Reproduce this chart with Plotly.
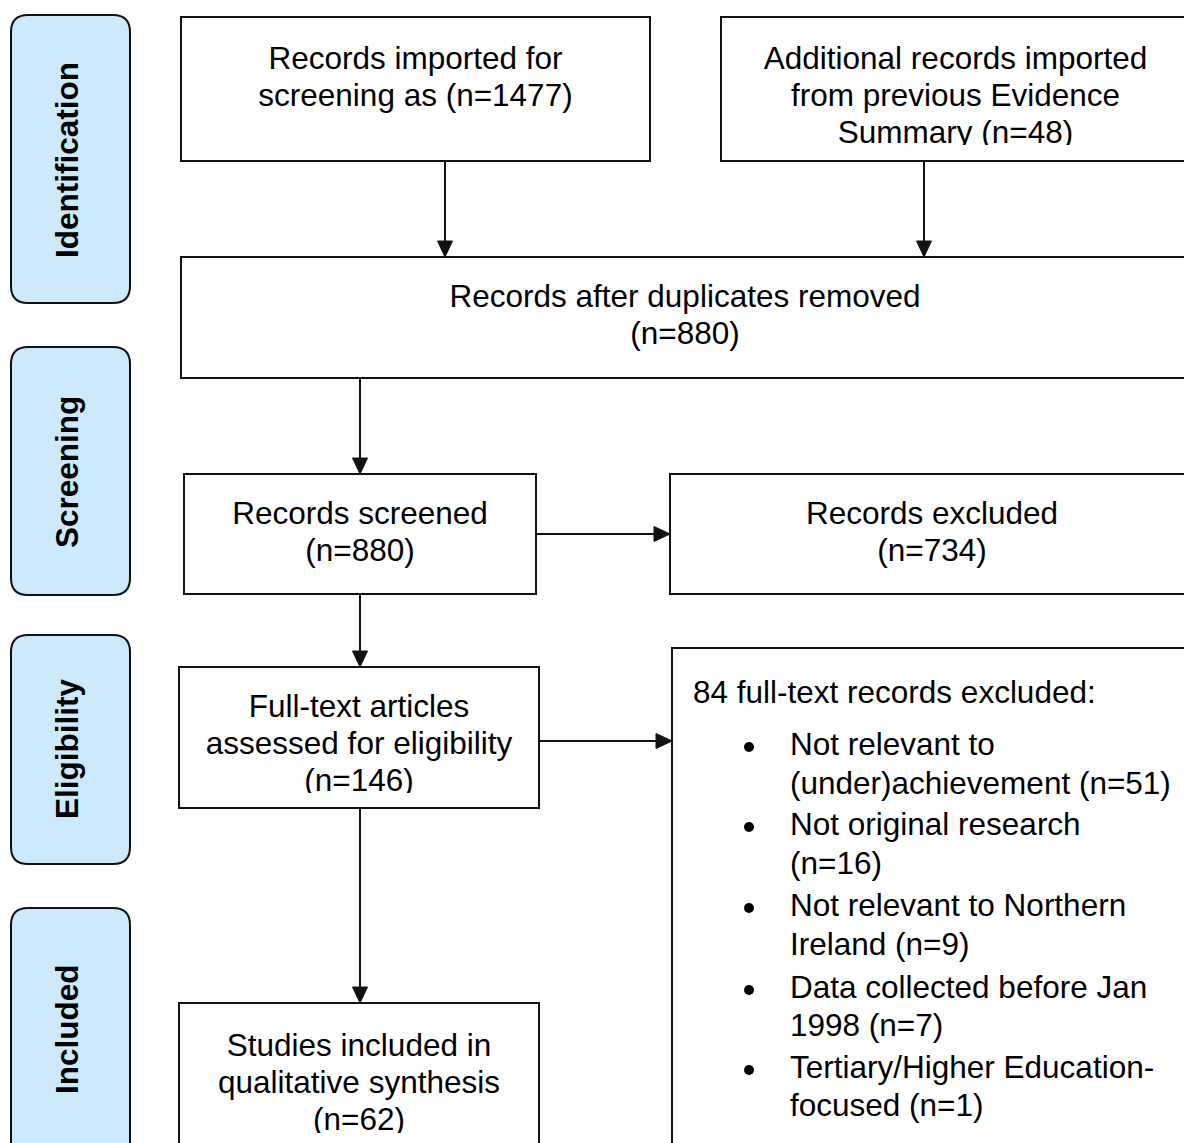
import plotly.graph_objects as go

# study-flow counts
N_IMPORTED = 1477
N_PREVIOUS = 48
N_DEDUPED = 880
N_SCREENED = 880
N_EXCLUDED = 734
N_FULLTEXT = 146
N_FT_EXCLUDED = 84
N_INCLUDED = 62

PHASES = ["Identification", "Screening", "Eligibility", "Included"]

EXCLUSION_REASONS = [
    ("Not relevant to", "(under)achievement"),
    ("Not original research", ""),
    ("Not relevant to Northern", "Ireland"),
    ("Data collected before Jan", "1998"),
    ("Tertiary/Higher Education-", "focused"),
]
EXCLUSION_COUNTS = [51, 16, 9, 7, 1]

BOX_IMPORTED = ["Records imported for", f"screening as (n={N_IMPORTED})"]
BOX_PREVIOUS = ["Additional records imported", "from previous Evidence",
                f"Summary (n={N_PREVIOUS})"]
BOX_DEDUPED = ["Records after duplicates removed", f"(n={N_DEDUPED})"]
BOX_SCREENED = ["Records screened", f"(n={N_SCREENED})"]
BOX_EXCLUDED = ["Records excluded", f"(n={N_EXCLUDED})"]
BOX_FULLTEXT = ["Full-text articles", "assessed for eligibility", f"(n={N_FULLTEXT})"]
BOX_INCLUDED = ["Studies included in", "qualitative synthesis", f"(n={N_INCLUDED})"]

# page coordinates; the html body has an 8px margin, so the figure starts at 8
W, H = 1192, 1143
OFF = 8
FIG_H = H - OFF
FONT = "Arial, 'Liberation Sans', sans-serif"
TEXT_SIZE = 31.5
EDGE = "#111111"
PHASE_FILL = "#CDEAFD"

fig = go.Figure()
shapes = []
masks = []
borders = []


def rounded_rect(x0, y0, x1, y1, r):
    return (f"M {x0 + r},{y0} L {x1 - r},{y0} Q {x1},{y0} {x1},{y0 + r} "
            f"L {x1},{y1 - r} Q {x1},{y1} {x1 - r},{y1} L {x0 + r},{y1} "
            f"Q {x0},{y1} {x0},{y1 - r} L {x0},{y0 + r} Q {x0},{y0} {x0 + r},{y0} Z")


def add_text(xs, ys, texts, position="middle center"):
    fig.add_trace(go.Scatter(
        x=xs, y=ys, text=texts, mode="text", textposition=position,
        textfont=dict(family=FONT, size=TEXT_SIZE, color="#000000"),
        hoverinfo="skip", showlegend=False, cliponaxis=False,
    ))


def add_box(box, lines, line_ys, cx=None, clip_y=None):
    x0, y0, x1, y1 = box
    borders.append(dict(type="rect", x0=x0, y0=y0, x1=x1, y1=y1, layer="above",
                        line=dict(color=EDGE, width=2), fillcolor="rgba(0,0,0,0)"))
    if lines:
        if cx is None:
            cx = (x0 + x1) / 2
        add_text([cx] * len(lines), line_ys, lines)
    if clip_y is not None:
        # the source text frames cut their last line at the baseline
        masks.append(dict(type="rect", x0=x0 + 1.5, x1=min(x1, W + 10) - 1.5,
                          y0=clip_y, y1=y1 - 1.2, layer="above",
                          line=dict(width=0), fillcolor="#ffffff"))


def add_arrow(x0, y0, x1, y1, head=16, half=7.5):
    borders.append(dict(type="line", x0=x0, y0=y0, x1=x1, y1=y1, layer="above",
                        line=dict(color=EDGE, width=2)))
    if x0 == x1:
        d = 1 if y1 > y0 else -1
        path = (f"M {x1},{y1} L {x1 - half},{y1 - d * head} "
                f"L {x1 + half},{y1 - d * head} Z")
    else:
        d = 1 if x1 > x0 else -1
        path = (f"M {x1},{y1} L {x1 - d * head},{y1 - half} "
                f"L {x1 - d * head},{y1 + half} Z")
    borders.append(dict(type="path", path=path, layer="above", fillcolor=EDGE,
                        line=dict(color=EDGE, width=1)))


# phase side labels
phase_boxes = [(11, 15, 130, 303), (11, 347, 130, 595),
               (11, 635, 130, 864), (11, 908, 130, 1165)]
phase_label_y = [160, 472, 749, 1029]
for (x0, y0, x1, y1), name, ly in zip(phase_boxes, PHASES, phase_label_y):
    shapes.append(dict(type="path", path=rounded_rect(x0, y0, x1, y1, 17),
                       fillcolor=PHASE_FILL, layer="below",
                       line=dict(color=EDGE, width=2)))
    fig.add_annotation(x=67, y=ly, text=f"<b>{name}</b>", textangle=-90,
                       showarrow=False, xanchor="center", yanchor="middle",
                       font=dict(family=FONT, size=31.5, color="#000000"))

# flow boxes
add_box((181, 17, 650, 161), BOX_IMPORTED, [61, 98])
add_box((721, 17, 1190, 161), BOX_PREVIOUS, [61, 98, 135], clip_y=145)
add_box((181, 257, 1215, 378), BOX_DEDUPED, [299, 336], cx=685)
add_box((184, 474, 536, 594), BOX_SCREENED, [516, 553], cx=360)
add_box((670, 474, 1215, 594), BOX_EXCLUDED, [516, 553], cx=932)
add_box((179, 667, 539, 808), BOX_FULLTEXT, [709, 746, 783], cx=359, clip_y=793)
add_box((179, 1003, 539, 1165), BOX_INCLUDED, [1048, 1085, 1122], cx=359, clip_y=1133)

# full-text exclusion list
add_box((672, 648, 1215, 1165), None, None)
add_text([693], [695], [f"{N_FT_EXCLUDED} full-text records excluded:"],
         position="middle right")
item_ys = [(747, 786), (827, 866), (908, 947), (990, 1028), (1070, 1108)]
lx, ly, lt, bx, by = [], [], [], [], []
for (first, rest), n, (ya, yb) in zip(EXCLUSION_REASONS, EXCLUSION_COUNTS, item_ys):
    lx += [790, 790]
    ly += [ya, yb]
    lt += [first, f"{rest} (n={n})".strip()]
    bx.append(749)
    by.append(ya)
add_text(lx, ly, lt, position="middle right")
fig.add_trace(go.Scatter(x=bx, y=by, mode="markers", hoverinfo="skip",
                         showlegend=False,
                         marker=dict(size=10, color="#000000", line=dict(width=0))))

# connectors
add_arrow(445, 161, 445, 257)
add_arrow(924, 161, 924, 257)
add_arrow(360, 378, 360, 474)
add_arrow(536, 534, 670, 534)
add_arrow(360, 594, 360, 667)
add_arrow(539, 741, 672, 741)
add_arrow(360, 808, 360, 1003)

fig.update_layout(
    width=W - OFF, height=FIG_H,
    margin=dict(l=0, r=0, t=0, b=0),
    paper_bgcolor="#ffffff", plot_bgcolor="#ffffff",
    shapes=shapes + masks + borders,
    xaxis=dict(range=[OFF, W], visible=False, fixedrange=True),
    yaxis=dict(range=[OFF + FIG_H, OFF], visible=False, fixedrange=True),
    showlegend=False,
)

fig.write_html("out.html")
